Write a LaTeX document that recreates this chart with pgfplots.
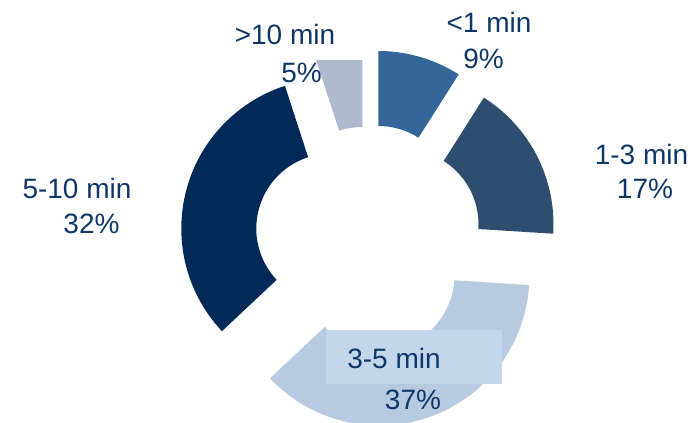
\documentclass[border=0pt]{standalone}
\usepackage{pgfplots}
\pgfplotsset{compat=1.18}
\usepackage{fontspec}
\setmainfont{Liberation Sans}
\definecolor{cA}{HTML}{346699}
\definecolor{cB}{HTML}{2F4D6E}
\definecolor{cC}{HTML}{B8CAE2}
\definecolor{cD}{HTML}{022A58}
\definecolor{cE}{HTML}{ADB9CC}
\definecolor{cBox}{HTML}{C3D6EC}
\definecolor{txt}{HTML}{0E3768}
\tikzset{lbl/.style={font=\fontsize{28bp}{33bp}\selectfont, text=txt, inner sep=0pt}}
% #1 cumulative percent before slice, #2 percent, #3 cx, #4 cy, #5 colour
\newcommand{\donutslice}[5]{%
  \fill[#5] (axis cs:{#3+150*cos(90-3.6*#1)},{#4+150*sin(90-3.6*#1)})
    arc[start angle={90-3.6*#1}, end angle={90-3.6*(#1+#2)}, radius=150bp]
    -- (axis cs:{#3+75*cos(90-3.6*(#1+#2))},{#4+75*sin(90-3.6*(#1+#2))})
    arc[start angle={90-3.6*(#1+#2)}, end angle={90-3.6*#1}, radius=75bp]
    -- cycle;}
\begin{document}
\begin{tikzpicture}
\begin{axis}[
  x=1bp, y=1bp, xmin=0, xmax=700, ymin=0, ymax=422,
  hide axis, clip=false,
]
% shares: <1 min 9, 1-3 min 17, 3-5 min 37, 5-10 min 32, >10 min 5
\donutslice{0}{9}{378.3}{221}{cA}
\donutslice{9}{17}{403.5}{197.7}{cB}
\donutslice{26}{37}{379.4}{146.4}{cC}
\donutslice{63}{32}{331.3}{193.5}{cD}
\donutslice{95}{5}{362.3}{220}{cE}
\fill[white] (axis cs:300,362) rectangle (axis cs:370,385);
\fill[cBox] (axis cs:326,92) rectangle (axis cs:501.7,37.7);
\node[lbl] at (axis cs:489,399.5) {<1 min};
\node[lbl] at (axis cs:483.5,363) {9\%};
\node[lbl] at (axis cs:285,388) {>10 min};
\node[lbl] at (axis cs:301.5,349.5) {5\%};
\node[lbl] at (axis cs:641.5,268) {1-3 min};
\node[lbl] at (axis cs:645,233) {17\%};
\node[lbl] at (axis cs:77,234) {5-10 min};
\node[lbl] at (axis cs:91.5,198) {32\%};
\node[lbl] at (axis cs:394,64) {3-5 min};
\node[lbl] at (axis cs:413,22) {37\%};
\end{axis}
\pgfresetboundingbox
\useasboundingbox (current axis.south west) rectangle (current axis.north east);
\end{tikzpicture}
\end{document}
